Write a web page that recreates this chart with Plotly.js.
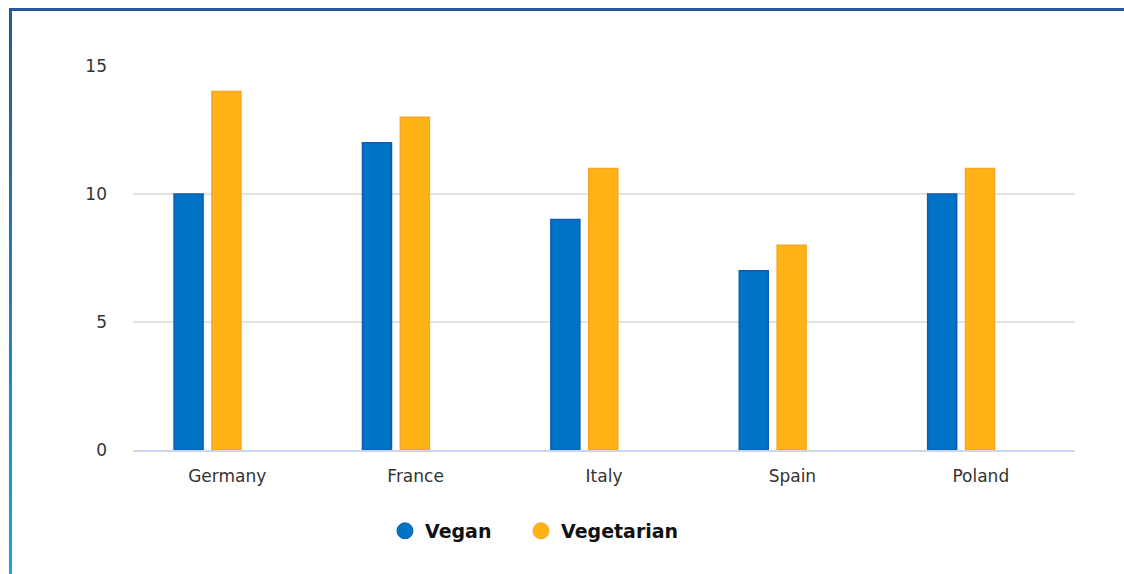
<!DOCTYPE html>
<html>
<head>
<meta charset="utf-8">
<script src="https://cdn.plot.ly/plotly-3.0.1.min.js"></script>
<style>
  html, body { margin: 0; padding: 0; background: #ffffff; }
  #wrap { position: relative; width: 1124px; height: 574px; overflow: hidden; }
  #chart { position: absolute; left: 0; top: 0; width: 1124px; height: 574px; }
  #topBorder { position: absolute; left: 9px; top: 8px; width: 1115px; height: 3px; background: #2b5597; z-index: 5; }
  #leftBorder { position: absolute; left: 9px; top: 8px; width: 3px; height: 566px; background: linear-gradient(#2b5597, #1aa7d0); z-index: 5; }
</style>
</head>
<body>
<div id="wrap">
  <div id="chart"></div>
  <div id="topBorder"></div>
  <div id="leftBorder"></div>
</div>
<script>
const countries = ["Germany", "France", "Italy", "Spain", "Poland"];
const vegan = [10, 12, 9, 7, 10];
const vegetarian = [14, 13, 11, 8, 11];
const seriesNames = ["Vegan", "Vegetarian"];
const yTicks = [0, 5, 10, 15];

const blue = "#0073c7";
const blueEdge = "#0b5db3";
const orange = "#ffb316";
const orangeEdge = "#f5a623";

const traces = [
  {
    type: "bar", x: countries, y: vegan, name: seriesNames[0],
    marker: { color: blue, line: { color: blueEdge, width: 1.5 } },
    offset: -0.282, width: 0.154, showlegend: false, hoverinfo: "x+y"
  },
  {
    type: "bar", x: countries, y: vegetarian, name: seriesNames[1],
    marker: { color: orange, line: { color: orangeEdge, width: 1.5 } },
    offset: -0.081, width: 0.154, showlegend: false, hoverinfo: "x+y"
  },
  {
    type: "scatter", mode: "markers", x: [null], y: [null], name: seriesNames[0],
    marker: { color: blue, size: 16, line: { color: blueEdge, width: 1 } },
    showlegend: true, legend: "legend"
  },
  {
    type: "scatter", mode: "markers", x: [null], y: [null], name: seriesNames[1],
    marker: { color: orange, size: 16, line: { color: orangeEdge, width: 1 } },
    showlegend: true, legend: "legend2"
  }
];

const legendFont = { family: "DejaVu Sans, Verdana, sans-serif", size: 19, color: "#111111", weight: "bold" };

const layout = {
  width: 1124, height: 574,
  margin: { l: 133, r: 49, t: 66, b: 124 },
  paper_bgcolor: "rgba(0,0,0,0)",
  plot_bgcolor: "rgba(0,0,0,0)",
  barmode: "group",
  font: { family: "DejaVu Sans, Verdana, sans-serif", size: 17, color: "#333333" },
  xaxis: {
    type: "category",
    showgrid: false,
    showline: true, linecolor: "#ccd6eb", linewidth: 2,
    ticks: "", ticklabelstandoff: 10,
    tickfont: { size: 17, color: "#333333" },
    zeroline: false,
    fixedrange: true
  },
  yaxis: {
    range: [0, 15],
    tickvals: yTicks,
    ticktext: yTicks.map(String),
    showgrid: true, gridcolor: "#e3e3e3", gridwidth: 1.5,
    zeroline: false, showline: false,
    ticks: "", ticklabelstandoff: 25,
    tickfont: { size: 17, color: "#333333" },
    fixedrange: true
  },
  showlegend: true,
  legend: {
    orientation: "h",
    xref: "container", yref: "container",
    x: 0.3425, xanchor: "left",
    y: 0.075, yanchor: "middle",
    font: legendFont,
    bgcolor: "rgba(0,0,0,0)"
  },
  legend2: {
    orientation: "h",
    xref: "container", yref: "container",
    x: 0.4635, xanchor: "left",
    y: 0.075, yanchor: "middle",
    font: legendFont,
    bgcolor: "rgba(0,0,0,0)"
  }
};

Plotly.newPlot("chart", traces, layout, { displayModeBar: false, staticPlot: true });
</script>
</body>
</html>
